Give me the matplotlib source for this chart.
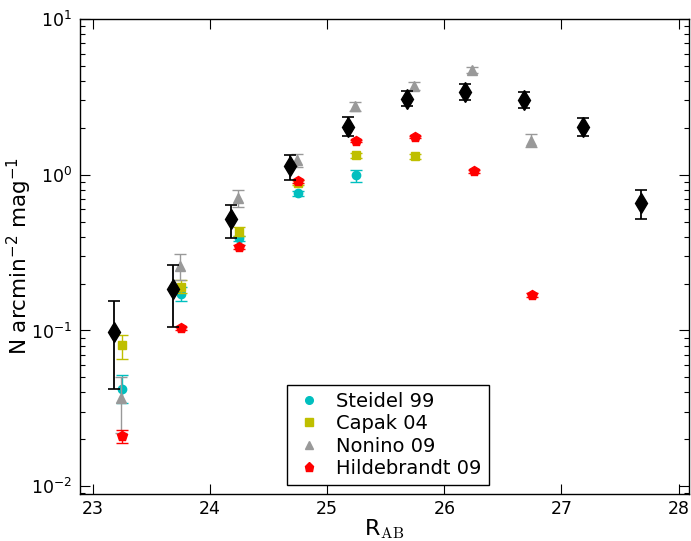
import numpy as np
import matplotlib
matplotlib.use("Agg")
import matplotlib.pyplot as plt
from matplotlib.lines import Line2D
from matplotlib.ticker import LogLocator, NullFormatter

# this work (black diamonds)
mag_ours = [23.18, 23.68, 24.18, 24.68, 25.18, 25.68, 26.18, 26.68, 27.18, 27.68]
n_ours = [0.098, 0.185, 0.52, 1.13, 2.03, 3.08, 3.38, 3.03, 2.04, 0.66]
lo_ours = [0.042, 0.105, 0.39, 0.93, 1.78, 2.75, 3.00, 2.70, 1.78, 0.52]
hi_ours = [0.155, 0.265, 0.64, 1.33, 2.35, 3.45, 3.80, 3.40, 2.33, 0.80]

mag_steidel = [23.25, 23.75, 24.25, 24.75, 25.25]
n_steidel = [0.042, 0.172, 0.39, 0.76, 0.99]
lo_steidel = [0.034, 0.155, 0.375, 0.73, 0.90]
hi_steidel = [0.052, 0.190, 0.405, 0.79, 1.08]

mag_capak = [23.25, 23.75, 24.25, 24.75, 25.25, 25.75]
n_capak = [0.081, 0.19, 0.43, 0.89, 1.33, 1.31]
lo_capak = [0.066, 0.175, 0.405, 0.86, 1.29, 1.27]
hi_capak = [0.094, 0.21, 0.46, 0.92, 1.37, 1.35]

mag_nonino = [23.24, 23.74, 24.24, 24.74, 25.24, 25.74, 26.24, 26.74]
n_nonino = [0.037, 0.26, 0.71, 1.24, 2.75, 3.70, 4.70, 1.65]
lo_nonino = [0.022, 0.21, 0.62, 1.12, 2.55, 3.50, 4.50, 1.50]
hi_nonino = [0.050, 0.31, 0.80, 1.35, 2.95, 3.95, 4.90, 1.82]

mag_hild = [23.25, 23.75, 24.25, 24.75, 25.25, 25.75, 26.25, 26.75]
n_hild = [0.021, 0.103, 0.345, 0.91, 1.65, 1.75, 1.05, 0.17]
lo_hild = [0.019, 0.100, 0.335, 0.89, 1.62, 1.72, 1.03, 0.165]
hi_hild = [0.023, 0.106, 0.355, 0.93, 1.68, 1.78, 1.07, 0.175]

# (label, marker, colour, size) for the literature samples
surveys = [
    ("Steidel 99", "o", "c", 6, mag_steidel, n_steidel, lo_steidel, hi_steidel),
    ("Capak 04", "s", "y", 6, mag_capak, n_capak, lo_capak, hi_capak),
    ("Nonino 09", "^", "0.6", 6.5, mag_nonino, n_nonino, lo_nonino, hi_nonino),
    ("Hildebrandt 09", "p", "r", 7, mag_hild, n_hild, lo_hild, hi_hild),
]


def yerr(n, lo, hi):
    n, lo, hi = np.array(n), np.array(lo), np.array(hi)
    return [n - lo, hi - n]


fig = plt.figure(figsize=(6.91, 5.41), dpi=100)
ax = fig.add_axes([0.1158, 0.0869, 0.8815, 0.878])

ax.errorbar(mag_ours, n_ours, yerr=yerr(n_ours, lo_ours, hi_ours), fmt="d",
            color="k", ms=10, capsize=4, elinewidth=1.3, capthick=1.2, zorder=5)

handles = []
for i, (label, marker, col, ms, x, n, lo, hi) in enumerate(surveys):
    ax.errorbar(x, n, yerr=yerr(n, lo, hi), fmt=marker, color=col, mec=col,
                ms=ms, capsize=4, elinewidth=1.0, zorder=3 + i * 0.1)
    handles.append(Line2D([], [], ls="none", marker=marker, color=col, mec=col,
                          ms=ms - 0.5, label=label))

ax.set_yscale("log")
ax.set_xlim(22.89, 28.09)
ax.set_ylim(10 ** -2.05, 10)
ax.set_xticks([23, 24, 25, 26, 27, 28])
ax.yaxis.set_major_locator(LogLocator(base=10, numticks=10))
ax.yaxis.set_minor_locator(LogLocator(base=10, subs=np.arange(2, 10), numticks=20))
ax.yaxis.set_minor_formatter(NullFormatter())

ax.tick_params(which="both", direction="in", top=True, right=True, labelsize=12.5)
ax.tick_params(which="major", length=7, width=0.8)
ax.tick_params(axis="x", which="major", pad=4)
ax.tick_params(axis="y", which="major", pad=6)
ax.tick_params(which="minor", length=3.5, width=0.8)
for s in ax.spines.values():
    s.set_linewidth(1.0)

ax.set_ylabel(r"N arcmin$^{-2}$ mag$^{-1}$", fontsize=15.5)
ax.yaxis.set_label_coords(-0.075, 0.5)
ax.set_xlabel(r"R$_{\rm AB}$", fontsize=16, math_fontfamily="cm", labelpad=0)

leg = ax.legend(handles=handles, loc="lower center", fontsize=14, fancybox=False,
                framealpha=1, edgecolor="k", handletextpad=0.6, handlelength=1.6,
                borderpad=0.35, labelspacing=0.18, borderaxespad=0,
                bbox_to_anchor=(0.505, 0.019))
leg.get_frame().set_linewidth(1.0)

fig.savefig("out.png", dpi=100)
